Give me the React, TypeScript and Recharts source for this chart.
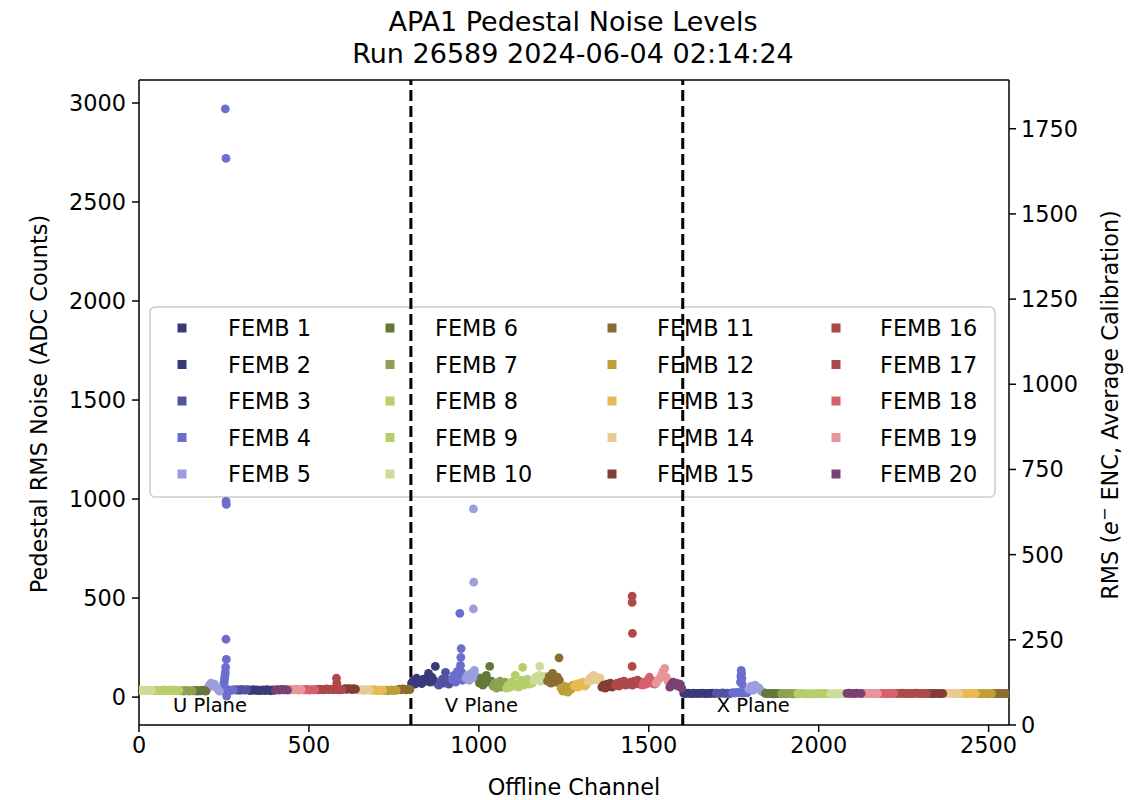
import React from 'react';
import { ScatterChart, Scatter, XAxis, YAxis, ReferenceLine, Customized } from 'recharts';

const FONT = '"DejaVu Sans", sans-serif';

const fembNames = [
  'FEMB 1', 'FEMB 2', 'FEMB 3', 'FEMB 4', 'FEMB 5',
  'FEMB 6', 'FEMB 7', 'FEMB 8', 'FEMB 9', 'FEMB 10',
  'FEMB 11', 'FEMB 12', 'FEMB 13', 'FEMB 14', 'FEMB 15',
  'FEMB 16', 'FEMB 17', 'FEMB 18', 'FEMB 19', 'FEMB 20',
];

const fembColors = [
  '#393b79', '#393b79', '#5254a3', '#6b6ecf', '#9c9ede',
  '#637939', '#8ca252', '#b5cf6b', '#b5cf6b', '#cedb9c',
  '#8c6d31', '#bd9e39', '#e7ba52', '#e7cb94', '#843c39',
  '#ad494a', '#ad494a', '#d6616b', '#e7969c', '#7b4173',
];

// first offline channel of each FEMB in each plane
const uStart = [360, 320, 280, 240, 200, 160, 120, 80, 40, 0, 760, 720, 680, 640, 600, 560, 520, 480, 440, 400];
const vStart = [800, 840, 880, 920, 960, 1000, 1040, 1080, 1120, 1160, 1200, 1240, 1280, 1320, 1360, 1400, 1440, 1480, 1520, 1560];
const xStart = [1600, 1648, 1696, 1744, 1792, 1840, 1888, 1936, 1984, 2032, 2512, 2464, 2416, 2368, 2320, 2272, 2224, 2176, 2128, 2080];

const uNoise = [
  [34, 36, 33, 37, 35, 32, 36, 34],
  [36, 33, 35, 38, 34, 36, 33, 35],
  [38, 35, 37, 34, 39, 36, 35, 37],
  [38, 34, 36, 33, 37, 35, 34, 36],
  [45, 60, 70, 55, 65, 50, 40, 30],
  [32, 34, 30, 33, 31, 35, 32, 30],
  [31, 33, 30, 34, 32, 30, 33, 31],
  [33, 35, 32, 34, 36, 33, 31, 34],
  [34, 32, 35, 33, 31, 34, 36, 33],
  [35, 33, 36, 34, 32, 35, 33, 34],
  [38, 40, 37, 41, 39, 36, 40, 38],
  [33, 35, 32, 34, 36, 33, 35, 34],
  [36, 34, 37, 35, 33, 36, 34, 35],
  [37, 35, 38, 36, 34, 37, 35, 36],
  [40, 42, 39, 43, 41, 38, 42, 40],
  [38, 40, 37, 41, 39, 36, 40, 38],
  [39, 37, 40, 38, 36, 39, 41, 38],
  [38, 36, 39, 37, 35, 38, 36, 37],
  [37, 39, 36, 38, 40, 37, 35, 38],
  [36, 38, 35, 37, 39, 36, 38, 35],
];

const vNoise = [
  [70, 85, 65, 95, 75, 80, 68, 90],
  [80, 95, 120, 75, 100, 85, 155, 70],
  [60, 75, 90, 70, 125, 85, 65, 80],
  [90, 110, 75, 130, 95, 120, 85, 100],
  [95, 110, 85, 120, 100, 135, 105, 90],
  [70, 95, 60, 85, 110, 75, 155, 80],
  [55, 70, 45, 65, 80, 50, 60, 75],
  [45, 60, 50, 75, 55, 110, 65, 50],
  [70, 85, 60, 75, 90, 65, 80, 70],
  [85, 100, 90, 110, 80, 95, 105, 90],
  [80, 105, 70, 120, 90, 75, 100, 85],
  [45, 30, 55, 35, 25, 50, 40, 60],
  [55, 65, 50, 70, 60, 75, 55, 65],
  [80, 95, 85, 110, 90, 100, 85, 95],
  [50, 60, 45, 65, 55, 70, 50, 60],
  [60, 70, 55, 75, 65, 80, 60, 70],
  [65, 75, 60, 80, 70, 85, 65, 75],
  [60, 75, 65, 85, 100, 70, 80, 65],
  [70, 85, 95, 110, 130, 145, 100, 80],
  [50, 65, 75, 60, 70, 55, 65, 45],
];

const xNoise = [
  [19, 18, 20, 19, 17, 20, 18, 19],
  [18, 20, 19, 17, 19, 18, 20, 18],
  [20, 18, 19, 21, 18, 20, 19, 18],
  [22, 20, 24, 21, 23, 20, 22, 21],
  [40, 55, 35, 60, 50, 45, 30, 25],
  [18, 17, 19, 18, 16, 18, 17, 19],
  [17, 18, 16, 19, 17, 18, 16, 17],
  [16, 17, 18, 16, 17, 15, 17, 16],
  [17, 16, 18, 17, 16, 18, 17, 16],
  [16, 17, 15, 17, 16, 18, 16, 17],
  [18, 17, 19, 18, 17, 19, 18, 17],
  [17, 18, 16, 18, 17, 16, 18, 17],
  [18, 17, 18, 16, 17, 18, 17, 18],
  [17, 18, 17, 19, 18, 17, 18, 17],
  [18, 19, 17, 18, 19, 18, 17, 18],
  [19, 18, 20, 18, 19, 17, 18, 19],
  [18, 19, 18, 20, 18, 19, 18, 17],
  [19, 18, 19, 17, 18, 19, 18, 19],
  [18, 19, 17, 18, 19, 18, 17, 18],
  [19, 20, 18, 19, 18, 20, 19, 18],
];

// noisy single channels
const outlierFemb = [4, 4, 4, 4, 4, 4, 4, 4, 4, 4, 4, 4, 4, 16, 16, 4, 4, 4, 4, 4, 5, 5, 5, 9, 10, 11, 17, 17, 17, 17, 4, 4, 4, 4, 4, 4, 4];
const outlierChan = [254, 256, 256, 257, 256, 257, 255, 254, 253, 252, 251, 250, 258, 581, 582, 944, 948, 947, 946, 949, 984, 985, 984, 1129, 1179, 1236, 1451, 1451, 1452, 1451, 1772, 1773, 1771, 1774, 1772, 1770, 1775];
const outlierRms = [2970, 2720, 988, 973, 292, 190, 150, 125, 110, 95, 80, 70, 5, 95, 70, 423, 245, 200, 160, 125, 950, 580, 445, 150, 155, 198, 510, 478, 322, 155, 135, 120, 105, 95, 85, 75, 65];

const planeNames = ['U Plane', 'V Plane', 'X Plane'];
const planeLabelChan = [100, 900, 1700];
const planeLabelRms = [-75, -75, -75];
const planeBoundaries = [800, 1600];

const xTicks = [0, 500, 1000, 1500, 2000, 2500];
const leftTicks = [0, 500, 1000, 1500, 2000, 2500, 3000];
const rightTicks = [0, 250, 500, 750, 1000, 1250, 1500, 1750];

const Y_MIN = -141;
const Y_MAX = 3116;

const buildPoints = (i: number) => {
  const pts: { ch: number; v: number }[] = [];
  uNoise[i].forEach((v, k) => pts.push({ ch: uStart[i] + 2 + k * 5, v }));
  vNoise[i].forEach((v, k) => pts.push({ ch: vStart[i] + 2 + k * 5, v }));
  xNoise[i].forEach((v, k) => pts.push({ ch: xStart[i] + 3 + k * 6, v }));
  outlierFemb.forEach((f, k) => {
    if (f === i + 1) pts.push({ ch: outlierChan[k], v: outlierRms[k] });
  });
  return pts;
};

const planeLabels = planeNames.map((name, i) => ({ ch: planeLabelChan[i], v: planeLabelRms[i], name }));

const tickStyle = { fontSize: 22.4, fill: '#000', fontFamily: FONT };
const axisLine = { stroke: '#000', strokeWidth: 1.5 };

const legendMarkerX = [182, 390, 612, 836];
const legendTextX = [228, 435, 657, 880];

const Overlay = () => (
  <g fontFamily={FONT} fill="#000">
    <text x={573} y={31} textAnchor="middle" fontSize={27}>APA1 Pedestal Noise Levels</text>
    <text x={573} y={63} textAnchor="middle" fontSize={27}>Run 26589 2024-06-04 02:14:24</text>
    <text x={574} y={795} textAnchor="middle" fontSize={22.4}>Offline Channel</text>
    <text transform="translate(47,404) rotate(-90)" textAnchor="middle" fontSize={22.4}>
      Pedestal RMS Noise (ADC Counts)
    </text>
    <text transform="translate(1118,405) rotate(-90)" textAnchor="middle" fontSize={22.4}>
      RMS (<tspan fontStyle="italic">e</tspan>
      <tspan dy={-8} fontSize={16}>−</tspan>
      <tspan dy={8}> ENC, Average Calibration)</tspan>
    </text>
    <rect x={150} y={307} width={845} height={190} rx={5} fill="#fff" fillOpacity={0.8} stroke="#cccccc" strokeWidth={1.5} />
    {fembNames.map((name, i) => {
      const col = Math.floor(i / 5);
      const cy = 328 + (i % 5) * 36.5;
      return (
        <g key={name}>
          <rect x={legendMarkerX[col] - 4.5} y={cy - 4.5} width={9} height={9} fill={fembColors[i]} />
          <text x={legendTextX[col]} y={cy} dominantBaseline="central" fontSize={22.4}>{name}</text>
        </g>
      );
    })}
  </g>
);

export default function App() {
  return (
    <div style={{ position: 'absolute', left: 0, top: 0, width: 1142, height: 800, background: '#fff' }}>
      <ScatterChart width={1142} height={800} margin={{ top: 80, right: 33, bottom: 0, left: 39 }}>
        <XAxis
          dataKey="ch"
          type="number"
          domain={[0, 2560]}
          ticks={xTicks}
          allowDataOverflow
          height={75}
          tick={tickStyle}
          tickSize={7}
          tickMargin={5}
          tickLine={axisLine}
          axisLine={axisLine}
        />
        <YAxis
          dataKey="v"
          type="number"
          domain={[Y_MIN, Y_MAX]}
          ticks={leftTicks}
          allowDataOverflow
          width={100}
          tick={tickStyle}
          tickSize={7}
          tickMargin={6}
          tickLine={axisLine}
          axisLine={axisLine}
        />
        <YAxis
          yAxisId="right"
          orientation="right"
          type="number"
          domain={[0, 1893]}
          ticks={rightTicks}
          allowDataOverflow
          width={100}
          tick={tickStyle}
          tickSize={7}
          tickMargin={5}
          tickLine={axisLine}
          axisLine={axisLine}
        />
        {fembNames.map((name, i) => (
          <Scatter
            key={name}
            name={name}
            data={buildPoints(i)}
            fill={fembColors[i]}
            isAnimationActive={false}
            shape={(p: any) => <circle cx={p.cx} cy={p.cy} r={4.4} fill={fembColors[i]} />}
          />
        ))}
        <Scatter
          name="planes"
          data={planeLabels}
          isAnimationActive={false}
          shape={(p: any) => (
            <text x={p.cx} y={p.cy} fontSize={19.5} fontFamily={FONT} fill="#000">{p.payload.name}</text>
          )}
        />
        <Customized component={Overlay} />
        {planeBoundaries.map((b) => (
          <ReferenceLine key={b} x={b} stroke="#000" strokeWidth={3} strokeDasharray="11 5" />
        ))}
        <ReferenceLine y={Y_MAX} stroke="#000" strokeWidth={1.5} />
      </ScatterChart>
    </div>
  );
}
